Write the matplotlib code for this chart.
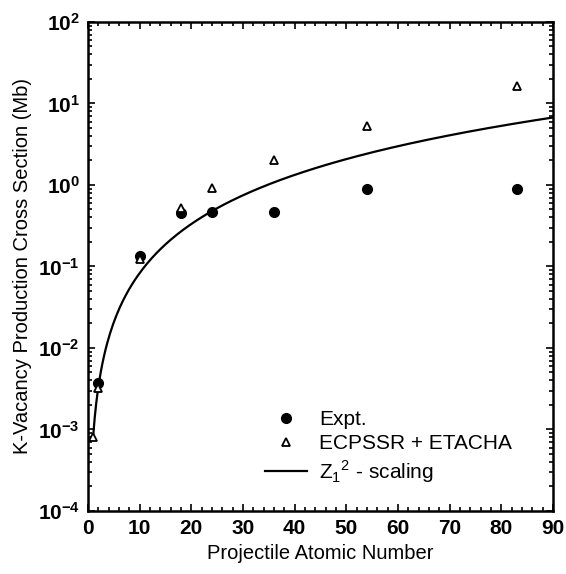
import numpy as np
import matplotlib
matplotlib.use("Agg")
import matplotlib.pyplot as plt
from matplotlib.ticker import MultipleLocator, LogLocator, NullFormatter

plt.rcParams['font.family'] = ['Liberation Sans', 'DejaVu Sans']
plt.rcParams['mathtext.fontset'] = 'custom'
plt.rcParams['mathtext.rm'] = 'Liberation Sans'
plt.rcParams['mathtext.bf'] = 'Liberation Sans:bold'

# measured K-vacancy production cross sections (Mb)
expt_z = [2, 10, 18, 24, 36, 54, 83]
expt_sigma = [3.7e-3, 0.135, 0.45, 0.46, 0.47, 0.89, 0.88]

# ECPSSR + ETACHA theory
theo_z = [1, 2, 10, 18, 24, 36, 54, 83]
theo_sigma = [8.0e-4, 3.2e-3, 0.122, 0.52, 0.93, 2.0, 5.3, 16.5]

# Z1^2 scaling from the proton value
sigma_proton = 8.3e-4
line_z = np.linspace(1, 90, 300)
line_sigma = sigma_proton * line_z ** 2

fig = plt.figure(figsize=(5.66, 5.74), dpi=100)
ax = fig.add_axes([0.1555, 0.1098, 0.8215, 0.852])

ax.plot(line_z, line_sigma, color='black', lw=1.6, label=r'Z$_1$$^2$ - scaling')
ax.plot(expt_z, expt_sigma, 'o', color='black', ms=7, label='Expt.')
ax.plot(theo_z, theo_sigma, '^', mfc='white', mec='black', mew=1.3, ms=6, label='ECPSSR + ETACHA')

ax.set_yscale('log')
ax.set_xlim(0, 90)
ax.set_ylim(1e-4, 1e2)
ax.xaxis.set_major_locator(MultipleLocator(10))
ax.xaxis.set_minor_locator(MultipleLocator(2))
ax.yaxis.set_minor_locator(LogLocator(base=10, subs=np.arange(2, 10), numticks=100))
ax.yaxis.set_minor_formatter(NullFormatter())
ax.set_yticks([10.0 ** k for k in range(-4, 3)])
ax.set_yticklabels([r'$\mathbf{10^{%d}}$' % k for k in range(-4, 3)])

ax.tick_params(which='both', direction='in', top=True, right=True, width=1.2)
ax.tick_params(which='major', length=5, labelsize=15, pad=6)
ax.tick_params(which='minor', length=3)
for lab in ax.get_xticklabels():
    lab.set_fontweight('bold')
    lab.set_fontsize(15)
for s in ax.spines.values():
    s.set_linewidth(1.8)

ax.set_xlabel('Projectile Atomic Number', fontsize=14.5, labelpad=4)
ax.set_ylabel('K-Vacancy Production Cross Section (Mb)', fontsize=14.5, labelpad=4)

h, l = ax.get_legend_handles_labels()
order = [1, 2, 0]
ax.legend([h[i] for i in order], [l[i] for i in order], loc='upper left',
          bbox_to_anchor=(0.34, 0.245), frameon=False, fontsize=15,
          handlelength=2.0, handletextpad=0.6, labelspacing=0.25)

fig.savefig('out.png', dpi=100, facecolor='white')
